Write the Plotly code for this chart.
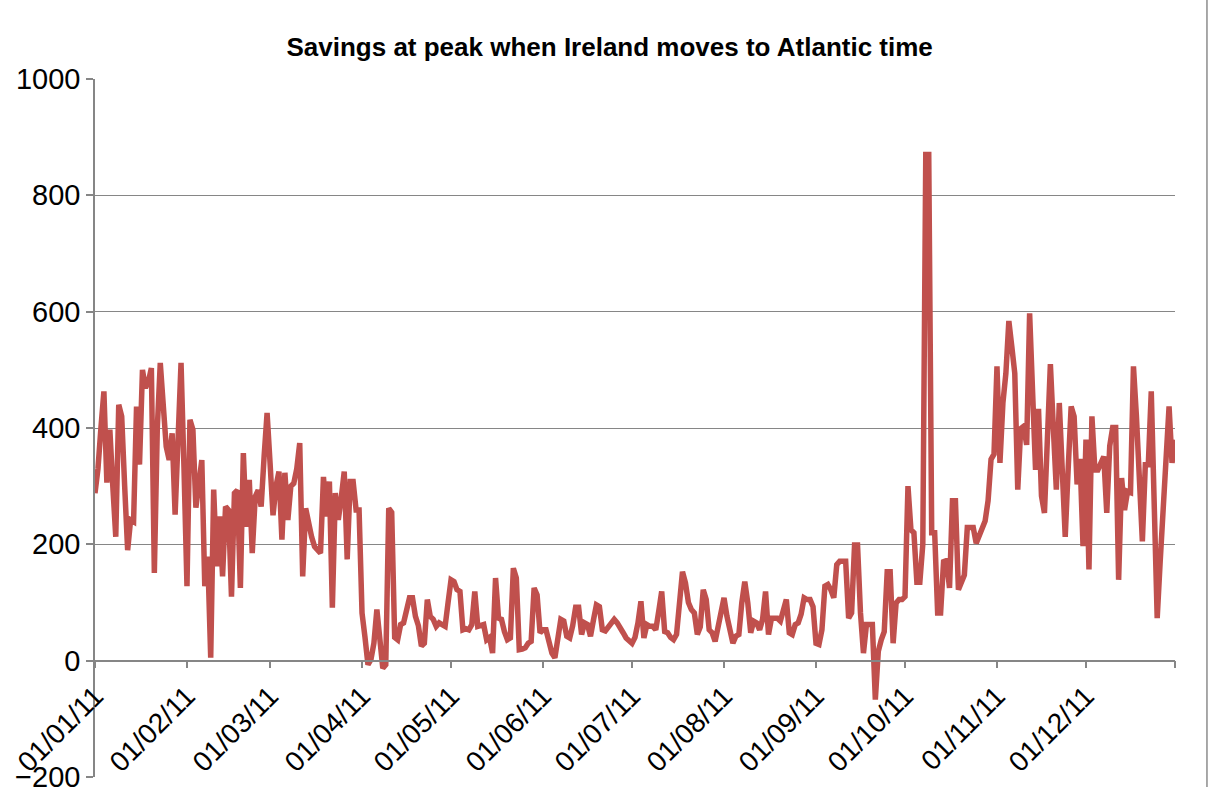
import pandas as pd
import plotly.graph_objects as go

# ── Données : économies journalières 2011 ─────────────────────────────────────
JAN = [288, 330, 400, 463, 306, 397, 300, 213, 440, 420, 300, 190, 242, 239, 437, 337,
       500, 469, 480, 503, 151, 400, 512, 430, 368, 345, 391, 251, 400, 512, 330]
FEB = [128, 414, 397, 263, 316, 345, 128, 179, 5, 294, 162, 248, 145, 265, 259, 110,
       288, 293, 125, 357, 230, 311, 185, 282, 293, 265, 351, 426]
MAR = [340, 250, 300, 325, 208, 323, 242, 300, 305, 330, 374, 145, 262, 235, 213, 196,
       190, 185, 316, 248, 308, 91, 288, 242, 280, 325, 174, 308, 308, 259, 259]
APR = [82, 40, -7, 2, 30, 88, 40, -13, -7, 262, 255, 40, 36, 62, 65, 85, 108, 108, 76,
       60, 25, 30, 105, 76, 71, 59, 65, 62, 59, 100]
MAY = [139, 136, 122, 119, 53, 55, 53, 62, 119, 59, 60, 62, 36, 40, 13, 142, 73, 71, 50,
       36, 39, 159, 142, 19, 20, 22, 30, 33, 125, 113, 48]
JUN = [53, 53, 30, 13, 5, 40, 71, 68, 42, 39, 60, 92, 92, 45, 65, 62, 42, 70, 96, 93, 53,
       51, 59, 65, 71, 65, 58, 48, 39, 35]
JUL = [30, 40, 65, 102, 39, 62, 59, 59, 53, 85, 119, 50, 48, 40, 36, 45, 100, 153, 134,
       100, 88, 82, 45, 58, 122, 105, 53, 48, 33, 60, 88]
AUG = [108, 76, 50, 30, 42, 45, 100, 136, 100, 48, 68, 65, 53, 71, 119, 45, 73, 73, 73,
       68, 85, 105, 48, 45, 62, 65, 80, 108, 105, 105, 93]
SEP = [30, 28, 53, 128, 131, 122, 108, 165, 171, 171, 171, 73, 82, 199, 199, 82, 13, 62,
       62, 62, -67, 16, 36, 50, 153, 153, 30, 99, 105, 105]
OCT = [110, 300, 225, 220, 135, 135, 200, 870, 870, 220, 220, 82, 82, 170, 172, 125, 275,
       275, 122, 134, 147, 229, 229, 229, 202, 214, 226, 240, 275, 346, 355]
NOV = [506, 340, 443, 494, 584, 540, 494, 294, 399, 403, 371, 597, 433, 328, 433, 283,
       254, 380, 510, 400, 294, 443, 294, 213, 330, 437, 420, 303, 347, 197]
DEC = [380, 157, 420, 328, 328, 340, 351, 254, 369, 401, 401, 139, 314, 259, 291, 289,
       506, 420, 323, 205, 337, 337, 463, 270, 73, 170, 265, 330, 437, 340, 380]

SAVINGS = JAN + FEB + MAR + APR + MAY + JUN + JUL + AUG + SEP + OCT + NOV + DEC
DATES = pd.date_range("2011-01-01", periods=len(SAVINGS), freq="D")

MONTH_TICKS = list(pd.date_range("2011-01-01", periods=12, freq="MS")) + [pd.Timestamp("2011-12-31")]
MONTH_LABELS = [d.strftime("%d/%m/%y") for d in MONTH_TICKS[:-1]] + [""]
Y_TICKS = [-200, 0, 200, 400, 600, 800, 1000]

TITLE = "Savings at peak when Ireland moves to Atlantic time"

# ── Style ─────────────────────────────────────────────────────────────────────
LINE_RED = "#C0504D"
GRID = "#868686"
FONT = "Liberation Sans, Arial, sans-serif"
Y_MIN, Y_MAX = -200, 1000

fig = go.Figure(go.Scatter(
    x=DATES, y=SAVINGS, mode="lines",
    line=dict(color=LINE_RED, width=5.5),
    showlegend=False,
))

# bordure du cadre de graphique (côté droit visible)
fig.add_shape(type="line", xref="paper", yref="paper", layer="above",
              x0=1.0296, x1=1.0296, y0=-0.05, y1=1.15,
              line=dict(color="#8C8C8C", width=1.5))

fig.update_layout(
    width=1212, height=787,
    paper_bgcolor="white", plot_bgcolor="white",
    margin=dict(l=95, r=37, t=79, b=10, autoexpand=False),
    font=dict(family=FONT, color="black", size=29),
    title=dict(text=f"<b>{TITLE}</b>", font=dict(size=26, family=FONT, color="black"),
               x=0.503, xref="container", xanchor="center",
               y=0.94, yref="container", yanchor="middle"),
    xaxis=dict(
        range=["2011-01-01", "2011-12-31"],
        tickvals=MONTH_TICKS, ticktext=MONTH_LABELS,
        tickangle=-45, ticks="outside", ticklen=7, tickwidth=1.5, tickcolor=GRID,
        showline=True, linecolor=GRID, linewidth=1.5,
        showgrid=False, zeroline=False,
        anchor="free", position=(0 - Y_MIN) / (Y_MAX - Y_MIN),
        tickfont=dict(size=28), automargin=False, ticklabeloverflow="allow",
    ),
    yaxis=dict(
        range=[Y_MIN, Y_MAX], tickvals=Y_TICKS,
        ticks="outside", ticklen=7, tickwidth=1.5, tickcolor=GRID,
        showline=True, linecolor=GRID, linewidth=1.5,
        showgrid=True, gridcolor=GRID, gridwidth=1.2,
        zeroline=False, tickfont=dict(size=29), automargin=False,
        ticklabeloverflow="allow",
    ),
)

# marge du <body> supprimée pour que la figure remplisse exactement la fenêtre
fig.write_html("out.html", config={"displayModeBar": False},
               post_script="document.body.style.margin='0';")
